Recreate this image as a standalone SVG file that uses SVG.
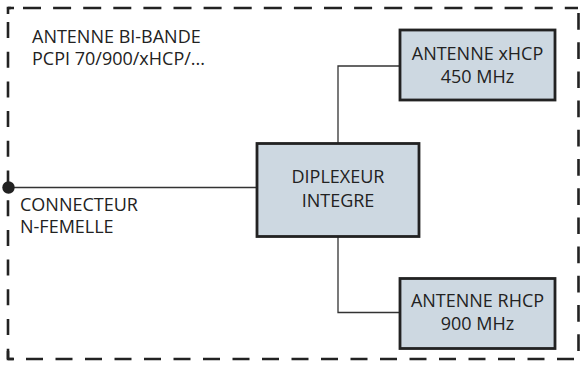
<svg xmlns="http://www.w3.org/2000/svg" width="580" height="365" viewBox="0 0 580 365">
<style>
.bg{fill:#ffffff}
.frame{fill:none;stroke:#222;stroke-width:2.6}
.box{fill:#cdd8e1;stroke:#222;stroke-width:2.8}
.wire{fill:none;stroke:#333;stroke-width:1.3}
.lbl{font-family:"Open Sans","DejaVu Sans",sans-serif;font-size:18px;fill:#222}
.c{text-anchor:middle}
</style>
<rect class="bg" x="0" y="0" width="580" height="365"/>
<g id="frame">
<line class="frame" x1="8" y1="8" x2="578" y2="8" stroke-dasharray="18 12.1" stroke-dashoffset="15.1"/>
<line class="frame" x1="578.5" y1="8" x2="578.5" y2="359" stroke-dasharray="16.7 12.5" stroke-dashoffset="24.2"/>
<line class="frame" x1="8" y1="359" x2="579" y2="359" stroke-dasharray="17 12.5" stroke-dashoffset="11.5"/>
<line class="frame" x1="8" y1="8" x2="8" y2="359" stroke-dasharray="16 13.7" stroke-dashoffset="15.7"/>
<path class="frame" d="M8,14 V8 H14"/>
<path class="frame" d="M8,351 V359 H14"/>
</g>
<g id="frame-label">
<text class="lbl" x="32" y="43">ANTENNE BI-BANDE</text>
<text class="lbl" x="32" y="65">PCPI 70/900/xHCP/...</text>
</g>
<g id="connectors">
<line class="wire" x1="8" y1="187.5" x2="257" y2="187.5"/>
<path class="wire" d="M338,143 V66 H400"/>
<path class="wire" d="M338,237 V312.5 H400"/>
</g>
<g id="connecteur">
<circle cx="8.5" cy="187.5" r="6.2" fill="#222"/>
<text class="lbl" x="20" y="211">CONNECTEUR</text>
<text class="lbl" x="20" y="233">N-FEMELLE</text>
</g>
<g id="diplexeur">
<rect class="box" x="257" y="143.5" width="162" height="93"/>
<text class="lbl c" x="338" y="183">DIPLEXEUR</text>
<text class="lbl c" x="338" y="207">INTEGRE</text>
</g>
<g id="antenne-xhcp">
<rect class="box" x="400" y="30" width="155" height="70"/>
<text class="lbl c" x="477.5" y="59.5">ANTENNE xHCP</text>
<text class="lbl c" x="477.5" y="82.5">450 MHz</text>
</g>
<g id="antenne-rhcp">
<rect class="box" x="400" y="278.5" width="155" height="70"/>
<text class="lbl c" x="477.5" y="307">ANTENNE RHCP</text>
<text class="lbl c" x="477.5" y="330">900 MHz</text>
</g>
</svg>
